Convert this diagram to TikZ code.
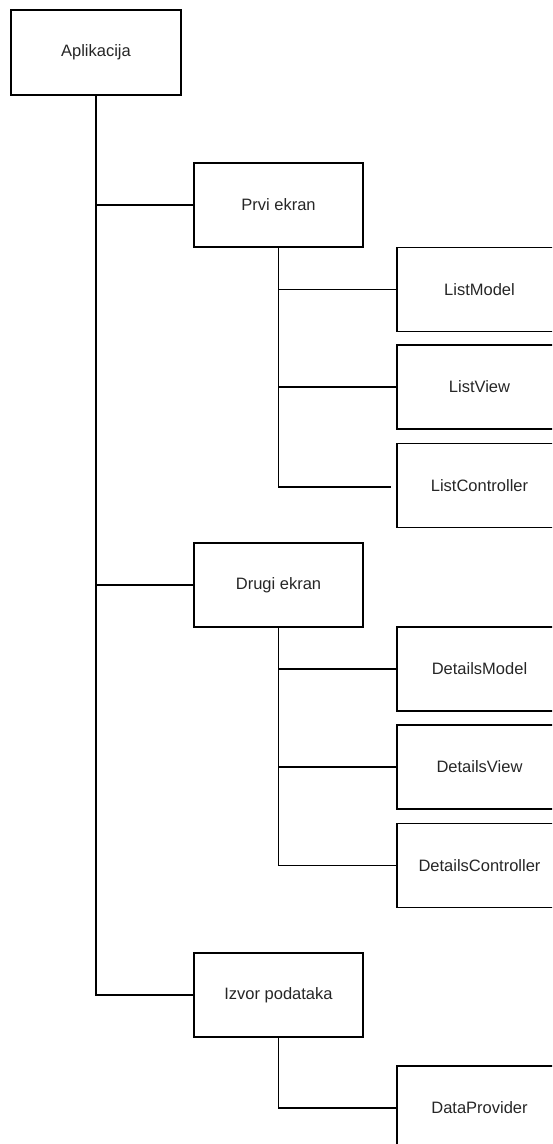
\documentclass[tikz,border=0pt]{standalone}
\usepackage{fontspec}
\setmainfont{Liberation Sans}
\begin{document}
\begin{tikzpicture}[x=1pt, y=-1pt, line width=1.2pt,
    box/.style={draw, rectangle, minimum width=169pt, minimum height=84pt, inner sep=0pt, font=\fontsize{16.5}{19}\selectfont, text=black!85},
    leaf/.style={box, minimum width=165pt}]
  \useasboundingbox (0,0) rectangle (552,1144);
  \clip (0,0) rectangle (552,1144);
  \node[box, minimum width=170pt, minimum height=85pt] (app) at (96,52.5) {Aplikacija};
  \node[box] (prvi) at (278.5,205) {Prvi ekran};
  \node[leaf] (lmodel) at (479.5,289.5) {ListModel};
  \node[leaf] (lview) at (479.5,387) {ListView};
  \node[leaf] (lctrl) at (479.5,485.5) {ListController};
  \node[box] (drugi) at (278.5,585) {Drugi ekran};
  \node[leaf] (dmodel) at (479.5,669) {DetailsModel};
  \node[leaf] (dview) at (479.5,767) {DetailsView};
  \node[leaf] (dctrl) at (479.5,865.5) {DetailsController};
  \node[box] (izvor) at (278.5,995) {Izvor podataka};
  \node[leaf] (dprov) at (479.5,1108) {DataProvider};
  \coordinate (lend) at (391,487);
  % glavna linija
  \draw (app.south) |- (izvor.west);
  \draw (app.south |- prvi.west) -- (prvi.west);
  \draw (app.south |- drugi.west) -- (drugi.west);
  % prvi ekran
  \draw (prvi.south) |- (lend);
  \draw (prvi.south |- lmodel.west) -- (lmodel.west);
  \draw (prvi.south |- lview.west) -- (lview.west);
  % drugi ekran
  \draw (drugi.south) |- (dctrl.west);
  \draw (drugi.south |- dmodel.west) -- (dmodel.west);
  \draw (drugi.south |- dview.west) -- (dview.west);
  % izvor podataka
  \draw (izvor.south) |- (dprov.west);
\end{tikzpicture}
\end{document}
